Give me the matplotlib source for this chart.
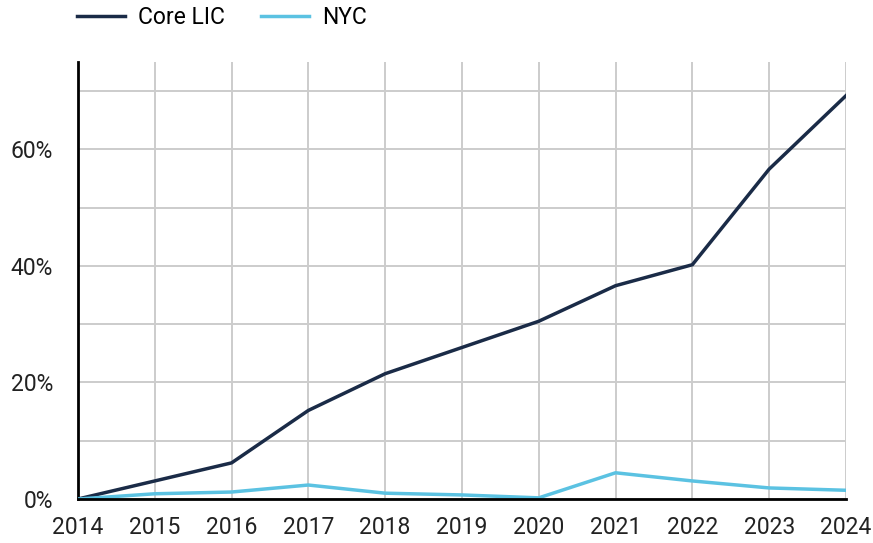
import matplotlib.pyplot as plt
from matplotlib.ticker import MultipleLocator, FuncFormatter

plt.rcParams['font.family'] = ['Roboto', 'DejaVu Sans']

years = [2014, 2015, 2016, 2017, 2018, 2019, 2020, 2021, 2022, 2023, 2024]
core_lic = [0.0, 3.1, 6.2, 15.2, 21.5, 26.0, 30.5, 36.6, 40.2, 56.6, 69.2]
nyc = [0.0, 0.9, 1.2, 2.4, 1.0, 0.7, 0.2, 4.5, 3.1, 1.9, 1.5]

fig = plt.figure(figsize=(8.73, 5.43), dpi=100)
ax = fig.add_axes([0.0893, 0.081, 0.8797, 0.805])

ax.plot(years, core_lic, color='#1a2b47', lw=2.5, label='Core LIC',
        solid_joinstyle='miter', zorder=3)
ax.plot(years, nyc, color='#5bc2e2', lw=2.5, label='NYC', zorder=3)

ax.set_xlim(2014, 2024)
ax.set_ylim(0, 75)
ax.set_xticks(years)
ax.yaxis.set_major_locator(MultipleLocator(20))
ax.yaxis.set_minor_locator(MultipleLocator(10))
ax.yaxis.set_major_formatter(FuncFormatter(lambda v, p: f'{v:.0f}%'))

ax.grid(True, which='both', color='#cccccc', lw=1.4, zorder=0)
ax.set_axisbelow(True)
ax.tick_params(which='both', length=0, labelsize=16.5, colors='#222222')
ax.tick_params(axis='y', pad=18)
ax.tick_params(axis='x', pad=12.5)

for s in ['top', 'right']:
    ax.spines[s].set_visible(False)
for s in ['left', 'bottom']:
    ax.spines[s].set_color('black')
    ax.spines[s].set_linewidth(2)
ax.spines['bottom'].set_zorder(4)

fig.legend(loc='center left', bbox_to_anchor=(77 / 873, 1 - 18 / 543), ncol=2,
           frameon=False, fontsize=16.5, borderpad=0, borderaxespad=0,
           handlelength=2.1, handletextpad=0.55, columnspacing=1.6)

fig.savefig('out.png', dpi=100)
